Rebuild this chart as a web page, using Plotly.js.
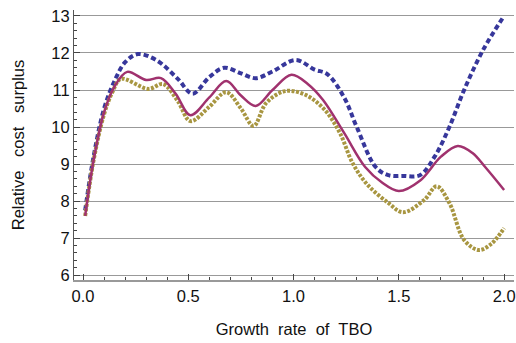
<!DOCTYPE html>
<html><head><meta charset="utf-8">
<script src="https://cdn.plot.ly/plotly-3.0.1.min.js"></script>
<style>html,body{margin:0;padding:0;background:#fff}#chart{width:516px;height:343px}</style>
</head><body><div id="chart"></div>
<script>
var blueX = [0.01,0.05,0.1,0.15,0.2,0.26,0.35,0.45,0.52,0.6,0.67,0.75,0.82,0.9,1.01,1.1,1.16,1.24,1.3,1.39,1.45,1.52,1.6,1.67,1.74,1.81,1.9,2.0];
var blueY = [7.75,9.2,10.5,11.25,11.75,11.97,11.8,11.3,10.9,11.35,11.6,11.45,11.32,11.5,11.81,11.55,11.43,10.8,10.0,8.92,8.7,8.68,8.7,9.2,10.0,11.0,12.08,13.0];
var purpleX = [0.01,0.05,0.1,0.15,0.21,0.3,0.37,0.44,0.51,0.6,0.68,0.75,0.82,0.9,0.99,1.07,1.14,1.24,1.34,1.42,1.5,1.6,1.7,1.78,1.85,1.91,2.0];
var purpleY = [7.6,9.1,10.4,11.1,11.49,11.27,11.32,10.9,10.32,10.8,11.24,10.85,10.57,11.0,11.41,11.15,10.73,9.84,8.92,8.5,8.27,8.55,9.2,9.49,9.3,8.92,8.3];
var goldX = [0.01,0.05,0.1,0.14,0.18,0.31,0.38,0.45,0.51,0.6,0.68,0.75,0.81,0.87,0.96,1.06,1.15,1.22,1.28,1.35,1.45,1.52,1.62,1.68,1.74,1.81,1.88,1.94,2.0];
var goldY = [7.6,9.1,10.35,10.95,11.3,11.03,11.16,10.7,10.16,10.55,10.94,10.5,10.03,10.65,10.97,10.86,10.45,9.84,9.03,8.45,7.95,7.7,8.03,8.4,7.95,6.95,6.68,6.85,7.27];
var xTicks = [0,0.5,1,1.5,2];
var xTickText = ['0.0','0.5','1.0','1.5','2.0'];
var yTicks = [6,7,8,9,10,11,12,13];

var traces = [
  {x: blueX, y: blueY, mode:'lines', line:{color:'rgb(55,55,155)', width:4, dash:'5px,3px', shape:'spline', smoothing:1}},
  {x: goldX, y: goldY, mode:'lines', line:{color:'rgb(168,150,65)', width:4, dash:'3px,1.5px', shape:'spline', smoothing:1}},
  {x: purpleX, y: purpleY, mode:'lines', line:{color:'rgb(160,50,110)', width:2.5, shape:'spline', smoothing:1}}
];
var font = {family:'Liberation Sans, Arial, sans-serif', size:16.5, color:'#111'};
var layout = {
  width:516, height:343,
  margin:{l:74, r:2, t:10, b:63},
  showlegend:false,
  paper_bgcolor:'#fff', plot_bgcolor:'#fff',
  font: font,
  xaxis:{
    range:[-0.043, 2.047], tickvals:xTicks, ticktext:xTickText,
    ticks:'inside', ticklen:6, tickcolor:'#444', showgrid:false, zeroline:false,
    showline:true, linecolor:'#999', linewidth:2,
    minor:{dtick:0.1, tick0:0, ticks:'inside', ticklen:3, tickcolor:'#444', showgrid:false},
    title:{text:'Growth  rate  of  TBO', font:font, standoff:20},
    tickfont:font
  },
  yaxis:{
    range:[5.87, 13.16], tickvals:yTicks,
    ticks:'inside', ticklen:6, tickcolor:'#444', showgrid:true, gridcolor:'#999', gridwidth:1, zeroline:false,
    showline:true, linecolor:'#555', linewidth:1,
    minor:{dtick:0.2, tick0:6, ticks:'inside', ticklen:3, tickcolor:'#444', showgrid:false},
    title:{text:'Relative   cost   surplus', font:font, standoff:22},
    tickfont:font
  }
};
Plotly.newPlot('chart', traces, layout, {displayModeBar:false, staticPlot:true});
</script></body></html>
